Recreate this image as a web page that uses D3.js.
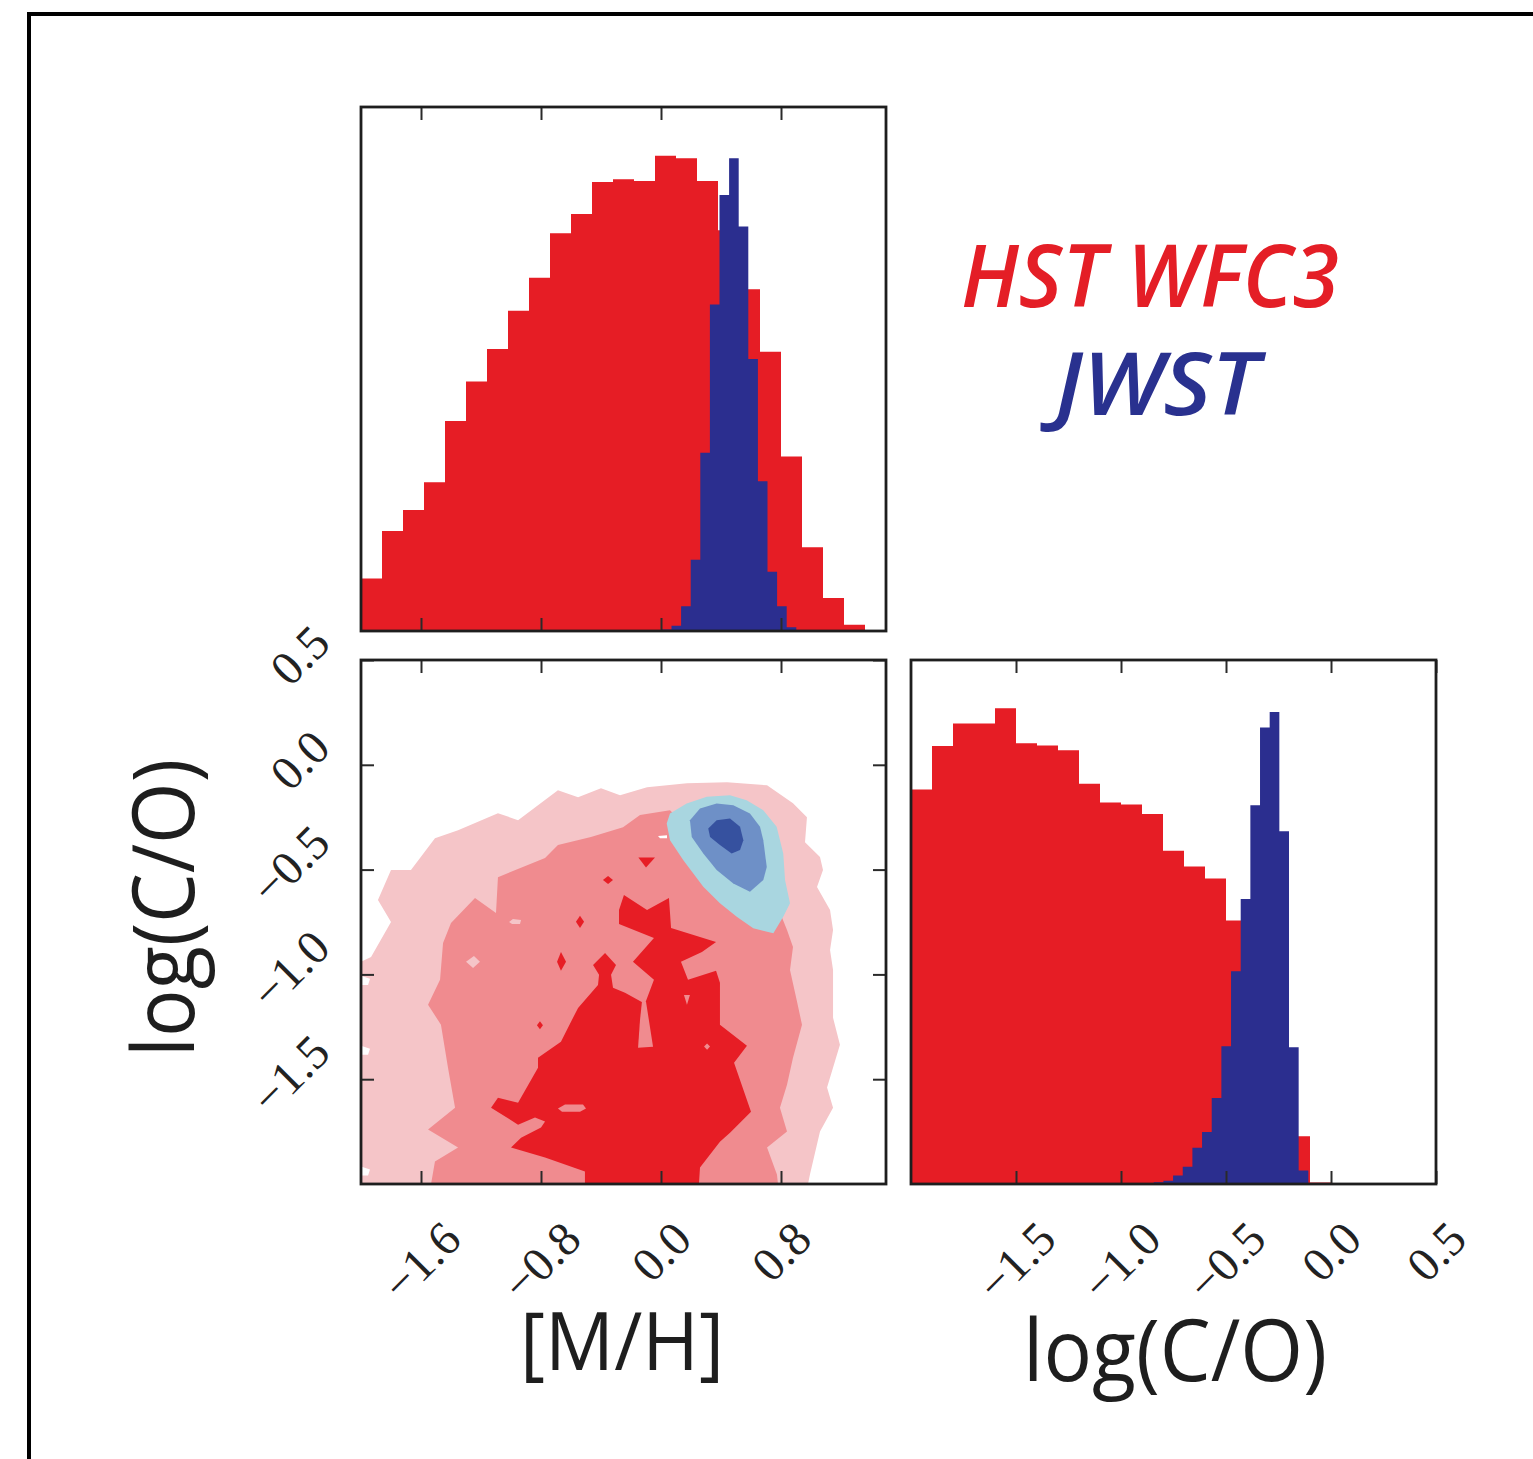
<!DOCTYPE html>
<html>
<head>
<meta charset="utf-8">
<script src="https://cdn.jsdelivr.net/npm/d3@7/dist/d3.min.js"></script>
<style>
html,body{margin:0;padding:0;background:#fff;}
svg{display:block;}
</style>
</head>
<body>
<svg id="chart"></svg>
<script>
// ---------------- DATA ----------------
// Histogram of [M/H] (top panel), relative heights (% of panel height)
const mhBinStart = -2.0, mhBinWidth = 0.14;
const hstMH = [10.0, 19.1, 23.1, 28.4, 40.1, 47.6, 53.8, 61.1, 67.4, 75.9, 79.6, 85.7, 86.2, 85.9, 90.7, 90.2, 85.9, 76.5, 65.2, 53.3, 33.3, 16.0, 6.3, 1.2, 0];
const jwstMHStart = 0.006, jwstMHWidth = 0.064;
const jwstMH = [0.3, 1.0, 4.7, 13.6, 34.0, 62.3, 83.2, 90.2, 77.2, 51.9, 28.6, 11.3, 4.7, 0.7, 0.2];

// Histogram of log(C/O) (right panel)
const coBinStart = -2.0, coBinWidth = 0.1;
const hstCO = [75.3, 83.6, 87.9, 87.9, 90.8, 84.1, 83.7, 82.8, 76.4, 72.8, 72.4, 70.6, 63.6, 60.6, 58.3, 50.3, 41.6, 28.3, 9.1, 0.3, 0, 0, 0, 0, 0];
const jwstCOStart = -0.89, jwstCOWidth = 0.046;
const jwstCO = [0.2, 0.35, 0.6, 1.6, 3.3, 6.9, 9.9, 16.4, 26.3, 40.6, 54.4, 72.3, 87.1, 90.1, 67.3, 26.1, 2.6];

// Tick values
const mhTicks = [-1.6, -0.8, 0.0, 0.8];
const coTicks = [-1.5, -1.0, -0.5, 0.0, 0.5];

// Axis titles and legend
const xTitleLeft = "[M/H]";
const xTitleRight = "log(C/O)";
const yTitle = "log(C/O)";
const legendLabels = ["HST WFC3", "JWST"];

// Joint posterior contours ([M/H], log(C/O)) -- HST WFC3 (outer -> inner)
const hstLevel1 = [[-2.0,-2.0],[-2.0,-0.940],[-1.933,-0.917],[-1.8,-0.750],[-1.887,-0.645],[-1.8,-0.502],[-1.667,-0.502],[-1.507,-0.350],[-1.353,-0.312],[-1.087,-0.231],[-0.953,-0.264],[-0.687,-0.121],[-0.553,-0.155],[-0.4,-0.112],[-0.273,-0.145],[-0.093,-0.107],[0.173,-0.088],[0.44,-0.083],[0.707,-0.098],[0.88,-0.183],[0.973,-0.250],[0.96,-0.369],[1.06,-0.440],[1.08,-0.502],[1.04,-0.583],[1.127,-0.693],[1.147,-0.788],[1.127,-0.883],[1.147,-0.979],[1.147,-1.207],[1.193,-1.336],[1.107,-1.540],[1.147,-1.636],[1.06,-1.750],[0.993,-1.955],[0.98,-2.0]];
const hstLevel2 = [[-1.533,-2.0],[-1.507,-1.893],[-1.353,-1.826],[-1.553,-1.740],[-1.373,-1.636],[-1.42,-1.445],[-1.467,-1.240],[-1.553,-1.145],[-1.473,-1.026],[-1.453,-0.850],[-1.4,-0.755],[-1.24,-0.636],[-1.1,-0.707],[-1.087,-0.536],[-0.773,-0.445],[-0.687,-0.383],[-0.467,-0.345],[-0.253,-0.298],[-0.14,-0.240],[0.06,-0.217],[0.193,-0.312],[0.527,-0.455],[0.8,-0.717],[0.84,-0.788],[0.88,-0.869],[0.86,-0.979],[0.907,-1.131],[0.94,-1.240],[0.88,-1.398],[0.84,-1.526],[0.793,-1.636],[0.84,-1.750],[0.707,-1.826],[0.773,-1.955],[0.78,-2.0]];
const hstLevel3 = [[-0.507,-2.0],[-0.507,-1.940],[-0.773,-1.874],[-1.0,-1.826],[-0.933,-1.779],[-0.8,-1.731],[-0.773,-1.702],[-0.84,-1.683],[-0.953,-1.717],[-1.133,-1.636],[-1.087,-1.588],[-0.953,-1.612],[-0.82,-1.445],[-0.82,-1.398],[-0.667,-1.321],[-0.6,-1.226],[-0.553,-1.160],[-0.42,-1.050],[-0.413,-1.002],[-0.453,-0.955],[-0.373,-0.898],[-0.3,-0.955],[-0.333,-1.002],[-0.32,-1.064],[-0.24,-1.088],[-0.107,-1.140],[-0.047,-1.026],[-0.187,-0.940],[-0.047,-0.826],[-0.28,-0.760],[-0.28,-0.693],[-0.247,-0.621],[-0.093,-0.693],[0.053,-0.636],[0.067,-0.779],[0.367,-0.845],[0.273,-0.893],[0.133,-0.940],[0.18,-1.026],[0.367,-0.983],[0.393,-1.040],[0.393,-1.240],[0.573,-1.340],[0.487,-1.421],[0.6,-1.655],[0.46,-1.755],[0.393,-1.798],[0.26,-1.921],[0.253,-2.0]];
const hstLevel3Islands = [
  [[-0.151,-0.442],[-0.04,-0.442],[-0.1,-0.490]],
  [[-0.387,-0.550],[-0.353,-0.531],[-0.32,-0.550],[-0.353,-0.569]],
  [[-0.567,-0.749],[-0.54,-0.720],[-0.513,-0.749],[-0.54,-0.779]],
  [[-0.693,-0.940],[-0.667,-0.893],[-0.633,-0.940],[-0.667,-0.983]],
  [[-0.827,-1.243],[-0.807,-1.224],[-0.787,-1.243],[-0.807,-1.262]]
];
const hstLevel2Islands = [
  [[-0.127,-1.131],[-0.1,-1.131],[-0.053,-1.345],[-0.153,-1.350],[-0.14,-1.217]],
  [[-0.687,-1.640],[-0.64,-1.621],[-0.52,-1.621],[-0.5,-1.640],[-0.54,-1.655],[-0.66,-1.655]],
  [[0.287,-1.344],[0.307,-1.330],[0.327,-1.344],[0.307,-1.359]],
  [[0.153,-1.098],[0.193,-1.098],[0.173,-1.145]]
];
const hstLevel1Islands = [
  [[-1.013,-0.750],[-0.987,-0.736],[-0.933,-0.740],[-0.94,-0.760],[-0.993,-0.760]],
  [[-1.3,-0.940],[-1.247,-0.912],[-1.207,-0.940],[-1.253,-0.969]]
];
const emptyIslands = [
  [[-2.0,-1.007],[-1.94,-1.021],[-1.953,-1.05],[-2.0,-1.05]],
  [[-2.0,-1.340],[-1.94,-1.355],[-1.953,-1.383],[-2.0,-1.383]],
  [[-2.0,-1.917],[-1.94,-1.931],[-1.953,-1.960],[-2.0,-1.960]],
  [[-0.02,-0.340],[0.04,-0.336],[0.04,-0.350],[-0.007,-0.350]]
];
// JWST contours
const jwstLevel1 = [[0.06,-0.232],[0.171,-0.185],[0.305,-0.153],[0.46,-0.145],[0.571,-0.169],[0.682,-0.217],[0.771,-0.296],[0.815,-0.423],[0.827,-0.550],[0.86,-0.661],[0.815,-0.725],[0.749,-0.804],[0.615,-0.780],[0.505,-0.725],[0.393,-0.661],[0.282,-0.582],[0.149,-0.455],[0.06,-0.360],[0.038,-0.280]];
const jwstLevel2 = [[0.193,-0.264],[0.26,-0.209],[0.371,-0.185],[0.482,-0.193],[0.593,-0.232],[0.66,-0.296],[0.682,-0.360],[0.705,-0.487],[0.682,-0.550],[0.593,-0.606],[0.482,-0.566],[0.371,-0.502],[0.282,-0.423],[0.205,-0.344]];
const jwstLevel3 = [[0.315,-0.304],[0.371,-0.264],[0.46,-0.256],[0.527,-0.296],[0.549,-0.360],[0.527,-0.407],[0.471,-0.423],[0.393,-0.383],[0.327,-0.344]];

// ---------------- STYLE / LAYOUT ----------------
const colors = {
  hstHist: "#e61d25", jwstHist: "#2b2e8f",
  hst1: "#f5c5c8", hst2: "#f08b8f", hst3: "#e71d25",
  jwst1: "#a9d6e0", jwst2: "#6e90c7", jwst3: "#36519f",
  legendRed: "#e41e26", legendBlue: "#29318f"
};
const W = 1533, H = 1459;
const box = {mhL: 361, mhR: 886, coL: 911, coR: 1436, topT: 107, topB: 631, botT: 660, botB: 1184};

const svg = d3.select("#chart").attr("width", W).attr("height", H);
svg.append("rect").attr("width", W).attr("height", H).attr("fill", "#fff");
// outer figure frame
svg.append("rect").attr("x", 29).attr("y", 14).attr("width", W).attr("height", H)
   .attr("fill", "none").attr("stroke", "#000").attr("stroke-width", 4);

const xMH = d3.scaleLinear().domain([-2, 1.5]).range([box.mhL, box.mhR]);
const xCO = d3.scaleLinear().domain([-2, 0.5]).range([box.coL, box.coR]);
const yCO = d3.scaleLinear().domain([-2, 0.5]).range([box.botB, box.botT]);
const yTop = d3.scaleLinear().domain([0, 100]).range([box.topB, box.topT]);
const yRight = d3.scaleLinear().domain([0, 100]).range([box.botB, box.botT]);

const defs = svg.append("defs");
function addClip(id, x0, y0, x1, y1) {
  defs.append("clipPath").attr("id", id).append("rect")
    .attr("x", x0).attr("y", y0).attr("width", x1 - x0).attr("height", y1 - y0);
}
addClip("cTop", box.mhL, box.topT, box.mhR, box.topB);
addClip("cCont", box.mhL, box.botT, box.mhR, box.botB);
addClip("cRight", box.coL, box.botT, box.coR, box.botB);

function stepHist(g, values, start, width, xs, ys, color) {
  const pts = values.map((v, i) => [start + i * width, v]);
  pts.push([start + values.length * width, values[values.length - 1]]);
  const area = d3.area().curve(d3.curveStepAfter)
    .x(d => xs(d[0])).y0(ys(0)).y1(d => ys(d[1]));
  g.append("path").datum(pts).attr("d", area).attr("fill", color);
}

// ---- top histogram
const gTop = svg.append("g").attr("clip-path", "url(#cTop)");
stepHist(gTop, hstMH, mhBinStart, mhBinWidth, xMH, yTop, colors.hstHist);
stepHist(gTop, jwstMH, jwstMHStart, jwstMHWidth, xMH, yTop, colors.jwstHist);

// ---- right histogram
const gRight = svg.append("g").attr("clip-path", "url(#cRight)");
stepHist(gRight, hstCO, coBinStart, coBinWidth, xCO, yRight, colors.hstHist);
stepHist(gRight, jwstCO, jwstCOStart, jwstCOWidth, xCO, yRight, colors.jwstHist);

// ---- contour panel
const gCont = svg.append("g").attr("clip-path", "url(#cCont)");
const poly = d3.line().x(d => xMH(d[0])).y(d => yCO(d[1])).curve(d3.curveLinearClosed);
function drawPolys(list, color) {
  gCont.selectAll(null).data(list).join("path").attr("d", poly).attr("fill", color);
}
drawPolys([hstLevel1], colors.hst1);
drawPolys([hstLevel2], colors.hst2);
drawPolys(hstLevel1Islands, colors.hst1);
drawPolys([hstLevel3], colors.hst3);
drawPolys(hstLevel3Islands, colors.hst3);
drawPolys(hstLevel2Islands, colors.hst2);
drawPolys(emptyIslands, "#fff");
drawPolys([jwstLevel1], colors.jwst1);
drawPolys([jwstLevel2], colors.jwst2);
drawPolys([jwstLevel3], colors.jwst3);

// ---- ticks (inside)
const TL = 13;
function tickG(transform, axis) {
  const g = svg.append("g").attr("transform", transform).call(axis);
  g.select(".domain").remove();
  g.selectAll(".tick text").remove();
  g.selectAll(".tick line").attr("stroke", "#2a2a2a").attr("stroke-width", 2);
}
// top panel
tickG(`translate(0,${box.topT})`, d3.axisTop(xMH).tickValues(mhTicks).tickSizeInner(-TL).tickSizeOuter(0));
tickG(`translate(0,${box.topB})`, d3.axisBottom(xMH).tickValues(mhTicks).tickSizeInner(-TL).tickSizeOuter(0));
// contour panel
tickG(`translate(0,${box.botT})`, d3.axisTop(xMH).tickValues(mhTicks).tickSizeInner(-TL).tickSizeOuter(0));
tickG(`translate(0,${box.botB})`, d3.axisBottom(xMH).tickValues(mhTicks).tickSizeInner(-TL).tickSizeOuter(0));
tickG(`translate(${box.mhL},0)`, d3.axisLeft(yCO).tickValues(coTicks).tickSizeInner(-TL).tickSizeOuter(0));
tickG(`translate(${box.mhR},0)`, d3.axisRight(yCO).tickValues(coTicks).tickSizeInner(-TL).tickSizeOuter(0));
// right panel
tickG(`translate(0,${box.botT})`, d3.axisTop(xCO).tickValues(coTicks).tickSizeInner(-TL).tickSizeOuter(0));
tickG(`translate(0,${box.botB})`, d3.axisBottom(xCO).tickValues(coTicks).tickSizeInner(-TL).tickSizeOuter(0));

// ---- frames
function frame(x0, y0, x1, y1) {
  svg.append("rect").attr("x", x0).attr("y", y0).attr("width", x1 - x0).attr("height", y1 - y0)
    .attr("fill", "none").attr("stroke", "#1e1e1e").attr("stroke-width", 2.8);
}
frame(box.mhL, box.topT, box.mhR, box.topB);
frame(box.mhL, box.botT, box.mhR, box.botB);
frame(box.coL, box.botT, box.coR, box.botB);

// ---- tick labels (rotated 45 deg)
const fmt = v => (v < 0 ? "\u2212" : "") + Math.abs(v).toFixed(1);
const tickFS = 48;
const gLab = svg.append("g").attr("font-family", "'Liberation Serif', 'Times New Roman', serif")
  .attr("font-size", tickFS).attr("fill", "#222");
function rotLabel(x, y, str, mode) {
  const t = gLab.append("text").text(str).attr("text-anchor", "middle").attr("dominant-baseline", "central");
  const w = t.node().getComputedTextLength() - 0.06 * tickFS;
  const h = 0.66 * tickFS;
  const half = (w + h) / (2 * Math.SQRT2);
  const cx = mode === "x" ? x : x - half;
  const cy = mode === "x" ? y + half : y;
  t.attr("transform", `translate(${cx},${cy}) rotate(-45)`);
}
const labelTop = 1220;
mhTicks.forEach(v => rotLabel(xMH(v), labelTop, fmt(v), "x"));
coTicks.forEach(v => rotLabel(xCO(v), labelTop, fmt(v), "x"));
coTicks.forEach(v => rotLabel(331, yCO(v) - 5, fmt(v), "y"));

// ---- axis titles
const titleFont = "'Open Sans', 'Noto Sans', sans-serif";
svg.append("text").text(xTitleLeft).attr("x", 622).attr("y", 1370)
  .attr("text-anchor", "middle").attr("font-family", titleFont).attr("font-size", 81)
  .attr("fill", "#1e1e1e").attr("textLength", 204).attr("lengthAdjust", "spacingAndGlyphs");
svg.append("text").text(xTitleRight).attr("x", 1175).attr("y", 1381)
  .attr("text-anchor", "middle").attr("font-family", titleFont).attr("font-size", 86)
  .attr("fill", "#1e1e1e").attr("textLength", 304).attr("lengthAdjust", "spacingAndGlyphs");
svg.append("text").text(yTitle).attr("transform", "translate(194,908) rotate(-90)")
  .attr("text-anchor", "middle").attr("font-family", titleFont).attr("font-size", 86)
  .attr("fill", "#1e1e1e").attr("textLength", 298).attr("lengthAdjust", "spacingAndGlyphs");

// ---- legend text
svg.append("text").text(legendLabels[0]).attr("x", 1150).attr("y", 307)
  .attr("text-anchor", "middle").attr("font-family", titleFont).attr("font-style", "italic")
  .attr("font-weight", 600).attr("font-size", 86).attr("fill", colors.legendRed)
  .attr("textLength", 378).attr("lengthAdjust", "spacingAndGlyphs");
svg.append("text").text(legendLabels[1]).attr("x", 1157).attr("y", 415)
  .attr("text-anchor", "middle").attr("font-family", titleFont).attr("font-style", "italic")
  .attr("font-weight", 600).attr("font-size", 86).attr("fill", colors.legendBlue)
  .attr("textLength", 204).attr("lengthAdjust", "spacingAndGlyphs");
</script>
</body>
</html>
